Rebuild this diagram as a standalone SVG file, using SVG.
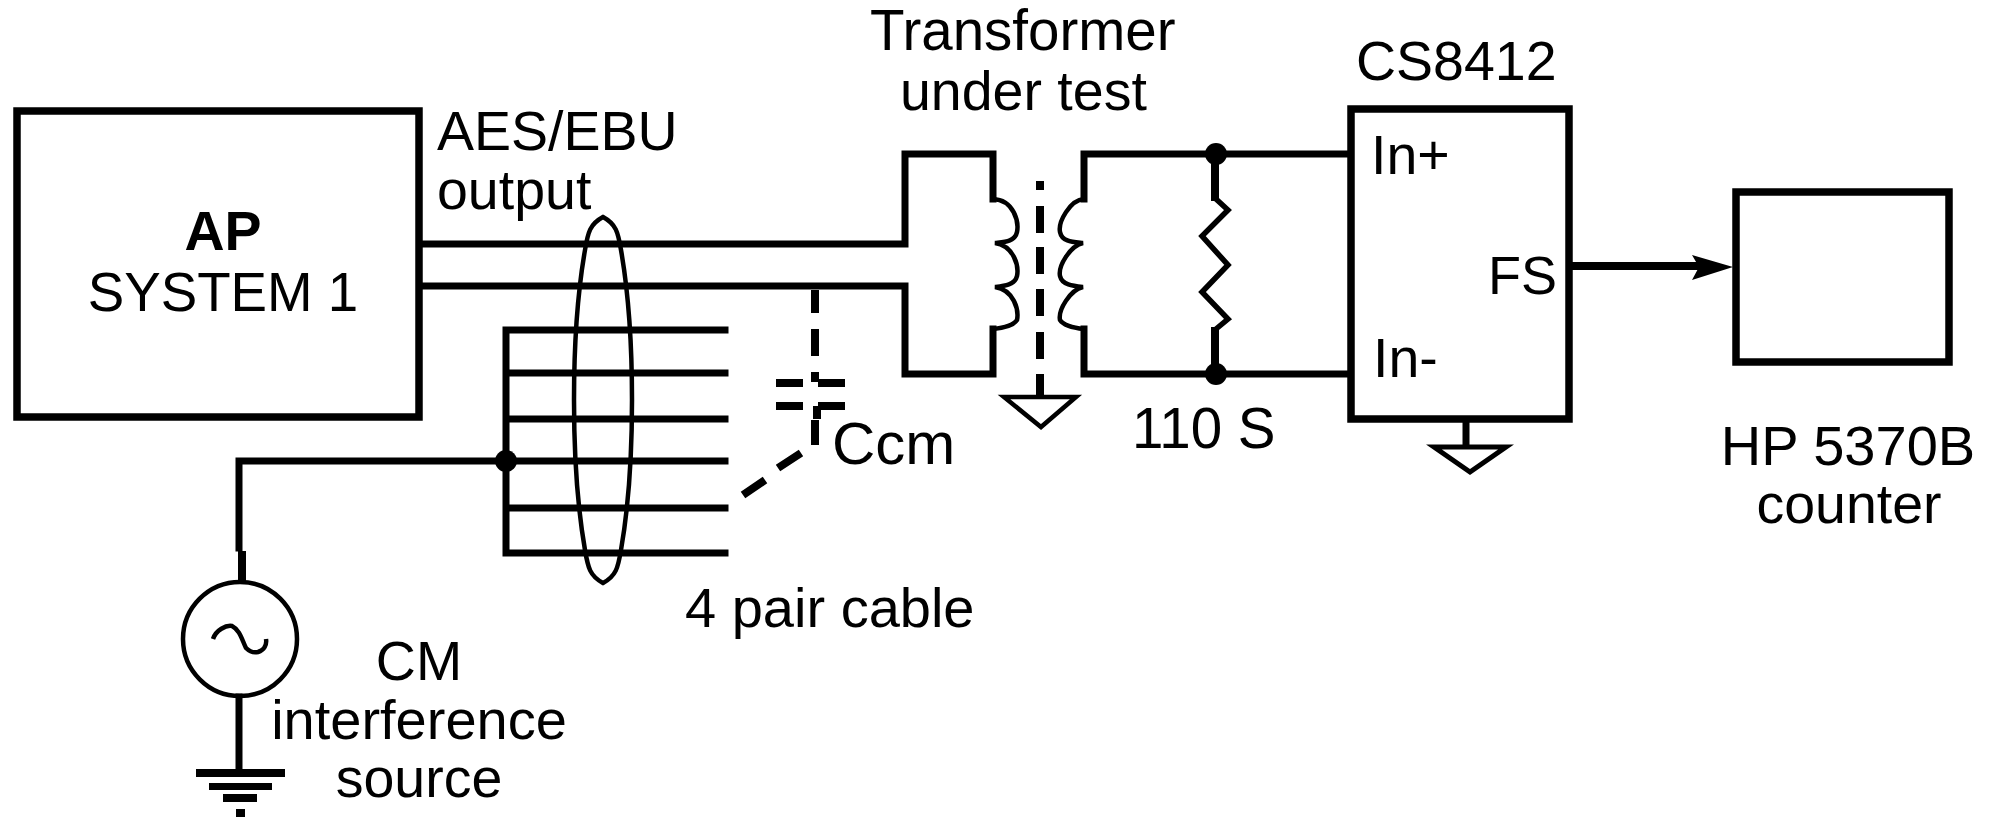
<svg xmlns="http://www.w3.org/2000/svg" width="1993" height="817" viewBox="0 0 1993 817">
<style>
text{font-family:"Liberation Sans",Arial,sans-serif;font-size:55.5px;fill:#000}
.w{fill:none;stroke:#000;stroke-width:7;stroke-linecap:square}
.t{fill:none;stroke:#000;stroke-width:4.5}
.d{fill:none;stroke:#000;stroke-width:8;stroke-linecap:butt}
.box{fill:#fff;stroke:#000;stroke-width:7.5}
</style>
<rect width="1993" height="817" fill="#fff"/>
<g id="connectors">
<path class="w" d="M419 244H905V154H993V199M419 286H905V374H993V329"/>
<path class="t" d="M993 199C1014 200 1019 222 1017 232C1015 242 1004 242 995 243C1014 246 1019 266 1017 276C1015 285 1004 286 995 287C1014 290 1019 310 1017 320C1013 326 1003 328 993 329"/>
<path class="t" d="M1084 199C1070 200 1058 222 1060 232C1062 242 1073 242 1083 243C1070 246 1058 266 1060 276C1062 285 1073 286 1083 287C1070 290 1058 310 1060 320C1064 326 1074 328 1084 329"/>
<path class="w" d="M1084 199V154H1350M1084 329V374H1350"/>
<path class="w" style="stroke-width:8" d="M1215 154V197M1215 331V374"/>
<path class="t" style="stroke-width:5.5" d="M1216 199L1228 210L1202 236L1228 265L1202 292L1228 319L1216 329"/>
<path class="d" d="M1040 181V190M1040 206V233M1040 247V274M1040 289V316M1040 332V359M1040 374V397"/>
<path class="t" d="M1004 397H1076L1041 427Z"/>
<path class="w" d="M1466 419V445"/>
<path class="t" style="stroke-width:5" d="M1434 447H1506L1470 472Z"/>
<path class="d" d="M1569 266H1700"/>
<path d="M1733 267L1692 255L1699 267L1692 280Z"/>
<path class="w" d="M506 330V553M506 330H725M506 373H725M506 419H725M506 461H725M506 508H725M506 553H725"/>
<path class="w" d="M239 461H506M239 461V548"/>
<path d="M238 551h8v32h-8z"/>
<path class="t" d="M603 217C590 224 588 232 585 250C578 290 574 340 574 400C574 460 578 510 585 550C588 568 590 576 603 583C616 576 618 568 621 550C628 510 632 460 632 400C632 340 628 290 621 250C618 232 616 224 603 217Z"/>
<path class="d" d="M815 290V313M815 329V356M815 372V382M776 383H803M818 383H845M776 406H803M818 406H845M817 406V419M815 420V445M801 453L778 468M765 480L743 495"/>
<path class="w" d="M239 697V770"/>
</g>
<g id="dots"><circle cx="1216" cy="154" r="11"/><circle cx="1216" cy="374" r="11"/><circle cx="506" cy="461" r="11"/></g>
<g id="ap-system"><rect class="box" x="17" y="111" width="402" height="306"/>
<text x="223" y="250" text-anchor="middle" style="font-weight:bold">AP</text><text x="223" y="311" text-anchor="middle" style="font-size:54.7px">SYSTEM 1</text></g>
<g id="cs8412"><rect class="box" x="1351" y="109" width="218" height="310"/>
<text x="1371" y="174">In+</text><text x="1373" y="377">In-</text><text x="1488" y="294" style="font-size:54px">FS</text><text x="1356" y="80">CS8412</text></g>
<g id="counter"><rect class="box" x="1736" y="192" width="213" height="170"/></g>
<g id="source"><circle cx="240" cy="639" r="57" class="t" fill="#fff"/>
<path class="t" d="M213 639C216 630 226 625 232 626C240 630 242 640 246 648C250 652 254 653 258 652C264 650 267 645 266 639"/>
<path d="M196 769h89v8h-89zM209 783h63v7h-63zM223 794h34v8h-34zM236 809h9v8h-9z"/></g>
<g id="labels">
<text x="870" y="50" style="font-size:56.5px">Transformer</text><text x="900" y="110">under test</text>
<text x="437" y="150">AES/EBU</text><text x="437" y="209">output</text>
<text x="832" y="464" style="font-size:60px">Ccm</text><text x="1132" y="448" style="font-size:56.5px">110 S</text>
<text x="685" y="627" style="font-size:56px">4 pair cable</text>
<text x="419" y="680" text-anchor="middle">CM</text><text x="419" y="739" text-anchor="middle" style="font-size:56px">interference</text><text x="419" y="797" text-anchor="middle">source</text>
<text x="1848" y="465" text-anchor="middle" style="font-size:56px">HP 5370B</text><text x="1849" y="523" text-anchor="middle">counter</text>
</g>
</svg>
